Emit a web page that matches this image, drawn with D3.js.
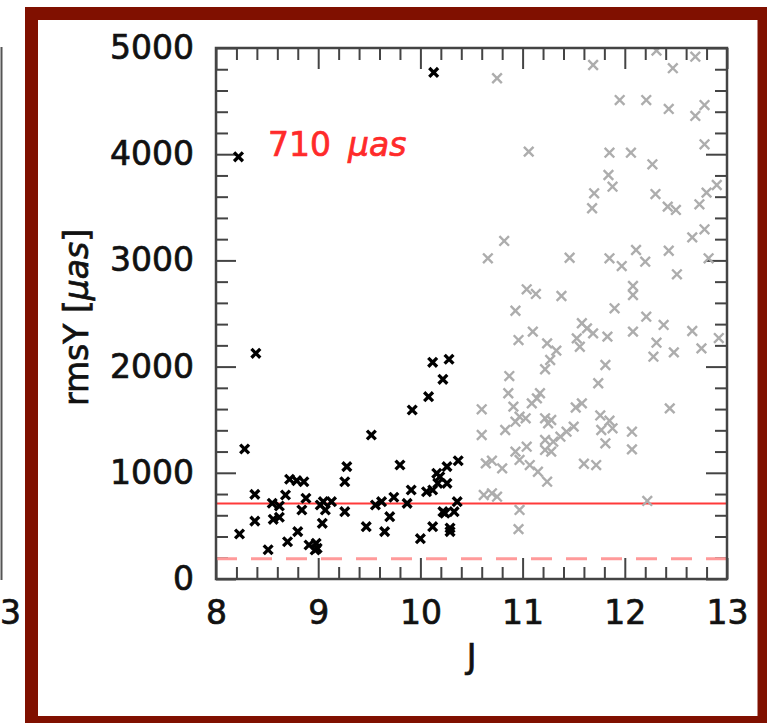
<!DOCTYPE html>
<html>
<head>
<meta charset="utf-8">
<script src="https://cdn.jsdelivr.net/npm/d3@7/dist/d3.min.js"></script>
<style>
  html, body { margin: 0; padding: 0; background: #fff; }
  svg { display: block; }
  text { font-family: "DejaVu Sans", sans-serif; }
</style>
</head>
<body>
<script>
// ---- data ----
const brightJ = [8.22, 10.13, 8.39, 8.28, 8.23, 8.38, 8.38, 8.51, 8.55, 8.62, 8.56, 8.62, 8.68, 8.72, 8.79, 8.86,
  8.88, 8.84, 8.80, 8.70, 8.91, 8.98, 8.99, 8.97, 9.04, 9.02, 9.07, 9.13, 9.28, 9.26, 9.26, 9.47, 9.52, 9.56,
  9.62, 9.65, 9.70, 9.74, 9.80, 9.87, 9.91, 9.92, 10.00, 10.08, 10.12, 10.22, 10.28, 10.06, 10.12, 10.12,
  10.17, 10.16, 10.19, 10.26, 10.26, 10.24, 10.29, 10.33, 10.36, 10.37, 10.22, 10.29, 9.05];
const brightRms = [3975, 4770, 2125, 1224, 424, 797, 545, 275, 713, 687, 562, 581, 791, 939, 926, 916,
  760, 650, 446, 351, 320, 336, 289, 273, 524, 697, 650, 728, 1058, 916, 634, 493, 1356, 697,
  728, 446, 587, 770, 1073, 712, 838, 1591, 380, 1717, 2040, 1880, 2069, 822, 493, 838,
  901, 995, 963, 1058, 901, 619, 446, 634, 728, 1114, 634, 480, 728];

const faintJ = [10.75, 11.69, 12.31, 12.47, 12.69, 11.95, 12.21, 12.43, 12.69, 12.78, 11.06, 11.85, 12.06, 12.27,
  12.78, 11.84, 11.88, 11.70, 11.68, 12.30, 12.42, 12.50, 12.73, 12.80, 12.90, 10.82, 10.66, 11.46, 11.85,
  11.97, 12.11, 12.20, 12.43, 12.51, 12.66, 12.78, 12.82, 11.04, 11.13, 11.38, 12.08, 12.08, 11.90, 12.21,
  12.38, 12.08, 12.31, 12.28, 12.48, 12.66, 12.75, 12.92, 11.58, 11.63, 11.69, 11.83, 11.56, 11.81, 11.74,
  11.58, 11.52, 11.76, 11.85, 11.77, 11.88, 11.81, 12.07, 12.07, 12.44, 11.60, 11.72, 12.22, 11.50, 10.93,
  11.10, 10.96, 11.24, 11.33, 11.27, 11.22, 11.53, 10.87, 10.60, 10.60, 10.86, 11.17, 11.14, 11.09, 10.91,
  10.97, 11.03, 10.93, 10.83, 11.22, 11.28, 11.25, 11.43, 11.37, 11.22, 11.30, 11.22, 11.28, 11.04, 10.93,
  10.97, 11.07, 11.15, 11.24, 10.64, 10.70, 10.80, 10.62, 10.70, 10.75, 10.97, 10.96];
const faintRms = [4715, 4840, 4975, 4810, 4918, 4510, 4510, 4426, 4360, 4463, 4024, 4014, 4014, 3905,
  4093, 3804, 3694, 3632, 3491, 3625, 3506, 3475, 3528, 3638, 3710, 3183, 3020, 3025, 3020,
  2947, 3098, 2988, 3091, 2869, 3217, 3293, 3020, 2728, 2684, 2665, 2759, 2674, 2549, 2470,
  2392, 2329, 2225, 2093, 2134, 2335, 2172, 2269, 2408, 2360, 2313, 2282, 2187, 2015, 1843,
  1654, 1615, 1540, 1490, 1403, 1419, 1278, 1387, 1221, 1607, 1085, 1073, 735, 1435, 2526,
  2329, 2250, 2219, 2150, 2062, 1975, 2266, 1911, 1598, 1356, 1749, 1749, 1701, 1654, 1623,
  1528, 1513, 1481, 1403, 1513, 1497, 1466, 1387, 1340, 1309, 1293, 1215, 1199, 1246, 1199,
  1121, 1073, 1010, 916, 1089, 1114, 1042, 791, 807, 775, 650, 470];

const xMajor = [8, 9, 10, 11, 12, 13];
const yMajor = [0, 1000, 2000, 3000, 4000, 5000];
const xMinor = d3.range(8, 13.001, 0.2).filter(v => Math.abs(v - Math.round(v)) > 1e-6);
const yMinor = d3.range(0, 5001, 200).filter(v => v % 1000 !== 0);
const medianLevel = 710;     // solid red line
const floorLevel = 190;      // dashed pink line
const annotationValue = "710";
const annotationUnit = "\u03bcas";
const xLabel = "J";
const neighbourTickLabel = "3";

// ---- layout ----
const W = 767, H = 723;
const svg = d3.select("body").append("svg").attr("width", W).attr("height", H);
const ink = "#111";

function boldish(sel, color) {
  return sel.attr("fill", color).attr("stroke", color).attr("stroke-width", 0.7);
}

// frame
svg.append("rect").attr("x", 0).attr("y", 0).attr("width", W).attr("height", H).attr("fill", "#fff");
svg.append("rect").attr("x", 31.5).attr("y", 13.5).attr("width", 732.5).attr("height", 709)
  .attr("fill", "#fff").attr("stroke", "#801000").attr("stroke-width", 13);

// partial neighbouring panel on the left
svg.append("line").attr("x1", 1.5).attr("x2", 1.5).attr("y1", 47).attr("y2", 580)
  .attr("stroke", "#555").attr("stroke-width", 2);
boldish(svg.append("text").attr("x", 0).attr("y", 624).attr("text-anchor", "start")
  .attr("font-size", 33).text(neighbourTickLabel), ink);

const x = d3.scaleLinear().domain([8, 13]).range([216, 727]);
const y = d3.scaleLinear().domain([0, 5000]).range([579, 48]);

const axisColor = "#444";
function styleAxis(g) {
  g.select(".domain").remove();
  g.selectAll(".tick line").attr("stroke", axisColor).attr("stroke-width", 2);
  boldish(g.selectAll(".tick text").attr("font-size", 33)
    .attr("font-family", "DejaVu Sans, sans-serif"), ink);
}

// bottom
svg.append("g").attr("transform", `translate(0,${y(0)})`)
  .call(d3.axisBottom(x).tickValues(xMajor).tickSize(-21).tickPadding(22).tickFormat(d3.format("d")))
  .call(styleAxis);
svg.append("g").attr("transform", `translate(0,${y(0)})`)
  .call(d3.axisBottom(x).tickValues(xMinor).tickSize(-12).tickFormat(""))
  .call(styleAxis);
// top
svg.append("g").attr("transform", `translate(0,${y(5000)})`)
  .call(d3.axisTop(x).tickValues(xMajor).tickSize(-21).tickFormat(""))
  .call(styleAxis);
svg.append("g").attr("transform", `translate(0,${y(5000)})`)
  .call(d3.axisTop(x).tickValues(xMinor).tickSize(-12).tickFormat(""))
  .call(styleAxis);
// left
svg.append("g").attr("transform", `translate(${x(8)},0)`)
  .call(d3.axisLeft(y).tickValues(yMajor).tickSize(-20).tickPadding(22).tickFormat(d3.format("d")))
  .call(styleAxis);
svg.append("g").attr("transform", `translate(${x(8)},0)`)
  .call(d3.axisLeft(y).tickValues(yMinor).tickSize(-12).tickFormat(""))
  .call(styleAxis);
// right
svg.append("g").attr("transform", `translate(${x(13)},0)`)
  .call(d3.axisRight(y).tickValues(yMajor).tickSize(-21).tickFormat(""))
  .call(styleAxis);
svg.append("g").attr("transform", `translate(${x(13)},0)`)
  .call(d3.axisRight(y).tickValues(yMinor).tickSize(-12).tickFormat(""))
  .call(styleAxis);

// reference lines
svg.append("line").attr("x1", x(8)).attr("x2", x(13)).attr("y1", y(floorLevel)).attr("y2", y(floorLevel))
  .attr("stroke", "#ff9a9a").attr("stroke-width", 3).attr("stroke-dasharray", "21,14");
svg.append("line").attr("x1", x(8)).attr("x2", x(13)).attr("y1", y(medianLevel)).attr("y2", y(medianLevel))
  .attr("stroke", "#ff3a3a").attr("stroke-width", 2);

// clip
svg.append("clipPath").attr("id", "clip").append("rect")
  .attr("x", x(8)).attr("y", y(5000)).attr("width", x(13) - x(8)).attr("height", y(0) - y(5000));

const pts = svg.append("g").attr("clip-path", "url(#clip)");
const cross = s => `M${-s},${-s}L${s},${s}M${-s},${s}L${s},${-s}`;

pts.selectAll("path.faint").data(d3.zip(faintJ, faintRms)).join("path")
  .attr("class", "faint")
  .attr("transform", d => `translate(${x(d[0])},${y(d[1])})`)
  .attr("d", cross(4.8)).attr("stroke", "#adadad").attr("stroke-width", 2.4).attr("fill", "none");

pts.selectAll("path.bright").data(d3.zip(brightJ, brightRms)).join("path")
  .attr("class", "bright")
  .attr("transform", d => `translate(${x(d[0])},${y(d[1])})`)
  .attr("d", cross(4.4)).attr("stroke", "#000").attr("stroke-width", 3.3).attr("fill", "none");

// outer frame lines of the plot
svg.append("rect").attr("x", x(8)).attr("y", y(5000)).attr("width", x(13) - x(8)).attr("height", y(0) - y(5000))
  .attr("fill", "none").attr("stroke", axisColor).attr("stroke-width", 2.5);

// annotation
const ann = boldish(svg.append("text").attr("x", 268).attr("y", 156).attr("font-size", 33), "#ff2a2a");
ann.append("tspan").text(annotationValue);
ann.append("tspan").attr("dx", 17).attr("font-style", "italic").text(annotationUnit);

// axis labels
boldish(svg.append("text").attr("x", x(10.5)).attr("y", 668).attr("text-anchor", "middle")
  .attr("font-size", 33).text(xLabel), ink);

const yl = boldish(svg.append("text").attr("transform", `translate(88,${(y(0)+y(5000))/2 + 4}) rotate(-90)`)
  .attr("text-anchor", "middle").attr("font-size", 33), ink);
yl.append("tspan").text("rmsY [");
yl.append("tspan").attr("font-style", "italic").text("\u03bcas");
yl.append("tspan").text("]");
</script>
</body>
</html>
